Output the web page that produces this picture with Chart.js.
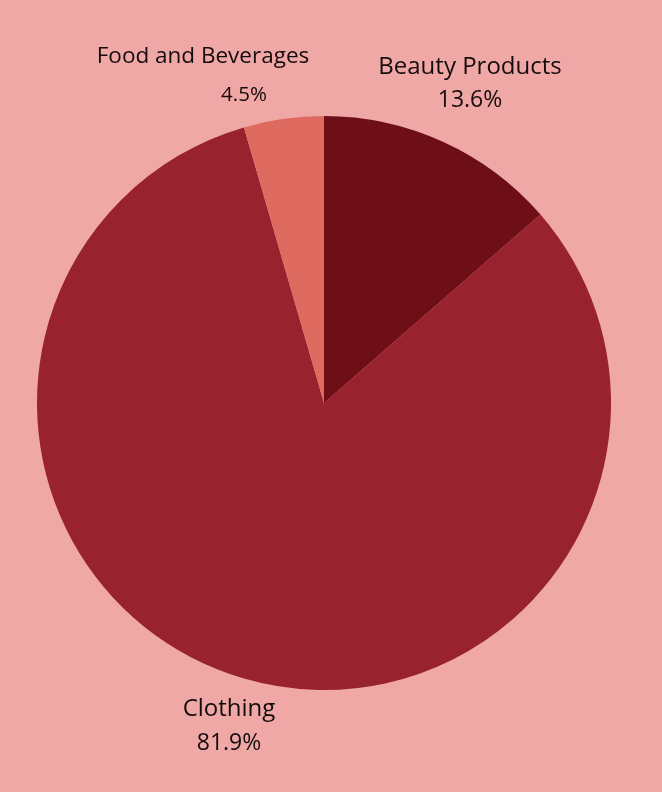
<!DOCTYPE html>
<html>
<head>
<meta charset="utf-8">
<script src="https://cdn.jsdelivr.net/npm/chart.js@4/dist/chart.umd.min.js"></script>
<style>
html,body{margin:0;padding:0;background:#F0A8A6;}
canvas{display:block;}
</style>
</head>
<body>
<canvas id="c" width="662" height="792"></canvas>
<script>
const categories = ["Beauty Products", "Clothing", "Food and Beverages"];
const shares = [13.6, 81.9, 4.5];
const sliceColors = ["#6E0E16", "#98222D", "#DE6A60"];
// label offsets relative to pie centre: [name dx, name dy, pct dx, pct dy]
const labelOffsets = [[146, -336, 146, -303], [-95, 306, -95, 340], [-121, -346, -80, -308]];
const nameSizes = [24, 24, 22.5];
const pctSizes = [23, 23, 20.5];

const labelPlugin = {
  id: 'sliceLabels',
  afterDraw(chart) {
    const ctx = chart.ctx;
    const meta = chart.getDatasetMeta(0);
    const arc = meta.data[0];
    const cx = arc.x, cy = arc.y;
    ctx.save();
    ctx.fillStyle = '#140c0c';
    ctx.textAlign = 'center';
    ctx.textBaseline = 'middle';
    categories.forEach((name, i) => {
      const o = labelOffsets[i];
      ctx.font = nameSizes[i] + 'px "Open Sans", sans-serif';
      ctx.fillText(name, cx + o[0], cy + o[1]);
      ctx.font = pctSizes[i] + 'px "Open Sans", sans-serif';
      ctx.fillText(shares[i].toFixed(1) + '%', cx + o[2], cy + o[3]);
    });
    ctx.restore();
  }
};

new Chart(document.getElementById('c'), {
  type: 'pie',
  data: {
    labels: categories,
    datasets: [{
      data: shares,
      backgroundColor: sliceColors,
      borderWidth: 0
    }]
  },
  options: {
    responsive: false,
    animation: false,
    layout: { padding: { left: 37, right: 51, top: 116, bottom: 102 } },
    plugins: { legend: { display: false }, tooltip: { enabled: false } }
  },
  plugins: [labelPlugin]
});
</script>
</body>
</html>
